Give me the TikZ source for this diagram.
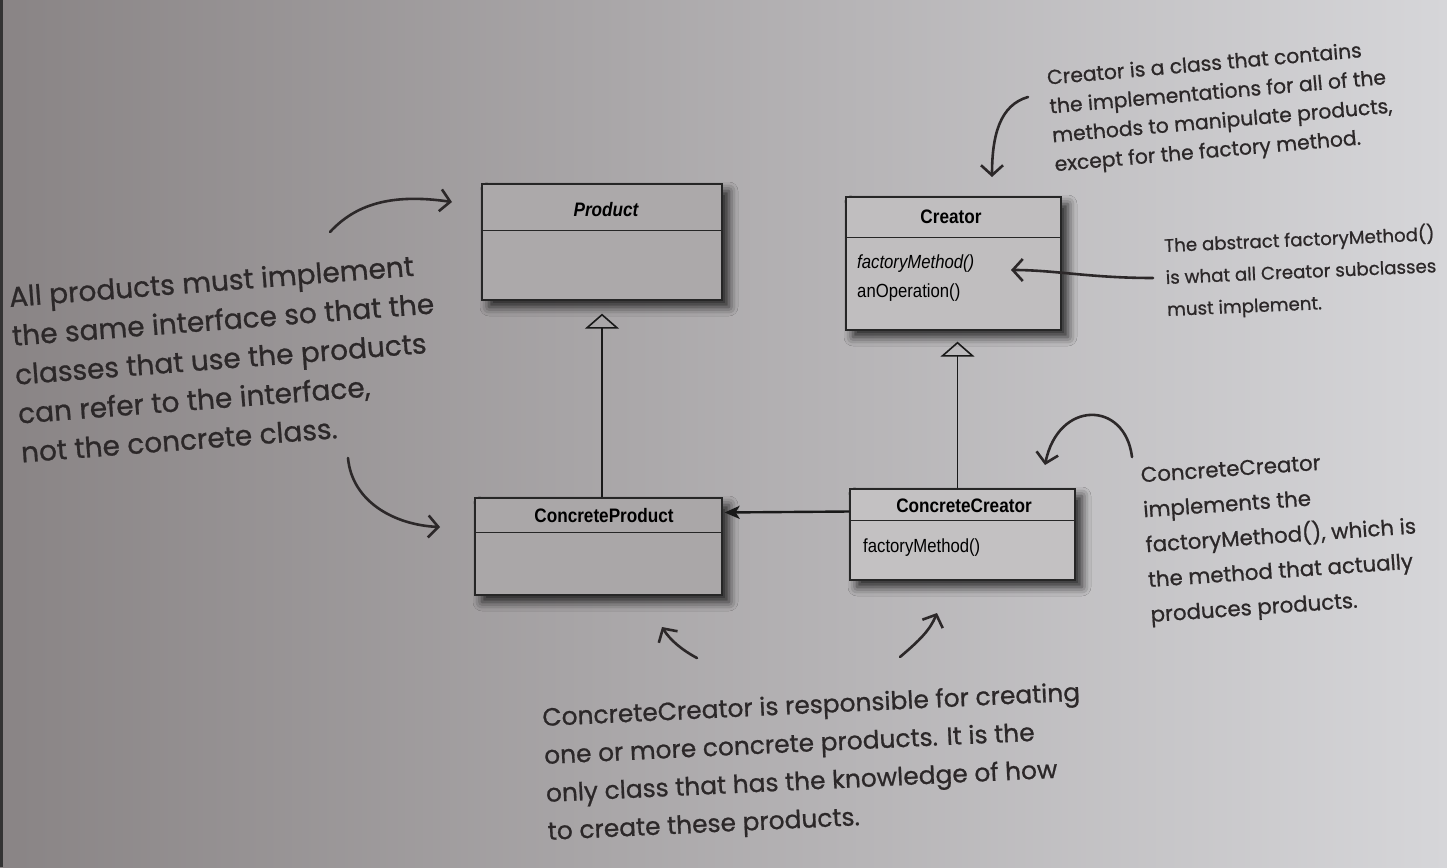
\documentclass[tikz,border=0pt]{standalone}
\usepackage{fontspec}
\usetikzlibrary{arrows.meta,shadows.blur}
\newfontfamily\handfont[FakeBold=0.8]{Poppins}
\newfontfamily\umlfont[FakeStretch=0.88]{Liberation Sans}

\definecolor{paperL}{RGB}{137,132,133}
\definecolor{paperR}{RGB}{214,214,217}
\definecolor{ink}{RGB}{44,40,41}

\tikzset{
  umlbox/.style={draw=black!85, line width=1.3pt, inner sep=0pt,
    blur shadow={shadow xshift=7pt, shadow yshift=-7pt,
      shadow blur radius=9pt, shadow opacity=80}},
  umltitle/.style={font=\umlfont\fontsize{19.5}{22}\selectfont\bfseries, inner sep=0pt},
  umlop/.style={font=\umlfont\fontsize{19}{22}\selectfont, inner sep=0pt, anchor=west},
  divider/.style={draw=black!85, line width=1.3pt},
  gen/.style={line width=1.6pt, draw=black!90,
    -{Triangle[open, length=15pt, width=34pt, line width=1.6pt]}},
  assoc/.style={line width=2.4pt, draw=black!90,
    -{Stealth[length=15pt, width=13pt, inset=4pt]}},
  pen/.style={draw=ink, line width=2.6pt, line cap=round, line join=round,
    -{Straight Barb[length=10pt, width=22pt, line width=2.6pt]}},
  note/.style={text=ink, align=left, inner sep=0pt},
}

\begin{document}
\begin{tikzpicture}[x=1pt, y=-1pt]
  % page background
  \useasboundingbox (0,0) rectangle (1447,867);
  \shade[left color=paperL, right color=paperR] (0,0) rectangle (1447,867);
  \fill[black!80] (0,0) rectangle (2.5,867);

  % class boxes
  \node[umlbox, fill={rgb,255:red,172;green,169;blue,170}, minimum width=240pt, minimum height=116pt]
    (product) at (602,242) {};
  \node[umlbox, fill={rgb,255:red,192;green,190;blue,191}, minimum width=215pt, minimum height=133pt]
    (creator) at (953.5,263.5) {};
  \node[umlbox, fill={rgb,255:red,170;green,167;blue,168}, minimum width=247pt, minimum height=97pt]
    (cprod) at (598.5,546.5) {};
  \node[umlbox, fill={rgb,255:red,195;green,193;blue,194}, minimum width=225pt, minimum height=91pt]
    (ccreator) at (962.5,534.5) {};

  % compartments
  \draw[divider] ([yshift=-47pt]product.north west) -- ([yshift=-47pt]product.north east);
  \draw[divider] ([yshift=-41pt]creator.north west) -- ([yshift=-41pt]creator.north east);
  \draw[divider] ([yshift=-35pt]cprod.north west) -- ([yshift=-35pt]cprod.north east);
  \draw[divider] ([yshift=-32pt]ccreator.north west) -- ([yshift=-32pt]ccreator.north east);

  % class names and operations
  \node[umltitle, font=\umlfont\fontsize{19.5}{22}\selectfont\bfseries\itshape]
    (productname) at (606,210) {Product};
  \node[umltitle] (creatorname) at (951,217) {Creator};
  \node[umltitle] (cprodname) at (604,516) {ConcreteProduct};
  \node[umltitle] (ccreatorname) at (964,506) {ConcreteCreator};
  \node[umlop, font=\umlfont\fontsize{19}{22}\selectfont\itshape] (fm) at (857,264) {factoryMethod()};
  \node[umlop] (anop) at (857,293) {anOperation()};
  \node[umlop] (ccfm) at (863,548) {factoryMethod()};

  % relations
  \draw[gen, shorten >=13pt] (product.south |- cprod.north) -- (product.south);
  \draw[gen, shorten >=11pt] ([xshift=4pt]creator.south |- ccreator.north) -- ([xshift=4pt]creator.south);
  \draw[assoc] ([yshift=23pt]ccreator.west) -- ([yshift=34pt,xshift=2pt]cprod.east);

  % handwritten notes
  \node[note, rotate=4.4, font=\handfont\fontsize{28}{39}\selectfont] (noteA) at (226,358)
    {All products must implement\\the same interface so that the\\classes that use the products\\can refer to the interface,\\not the concrete class.};
  \node[note, rotate=5, font=\handfont\fontsize{20.3}{29}\selectfont] (noteB) at (1221,108)
    {Creator is a class that contains\\the implementations for all of the\\methods to manipulate products,\\except for the factory method.};
  \node[note, rotate=2.5, font=\handfont\fontsize{18.2}{32}\selectfont] (noteC) at (1301,272)
    {The abstract factoryMethod()\\is what all Creator subclasses\\must implement.};
  \node[note, rotate=4, font=\handfont\fontsize{21.3}{35}\selectfont] (noteD) at (1281,538)
    {ConcreteCreator\\implements the\\factoryMethod(), which is\\the method that actually\\produces products.};
  \node[note, rotate=2.7, font=\handfont\fontsize{24.9}{38}\selectfont] (noteE) at (814,764)
    {ConcreteCreator is responsible for creating\\one or more concrete products. It is the\\only class that has the knowledge of how\\to create these products.};

  % handwritten arrows
  \coordinate (a1s) at (330,232);  \coordinate (a1e) at (452,202);
  \coordinate (a2s) at (348,458);  \coordinate (a2e) at (440,527);
  \coordinate (a3s) at (1028,97);  \coordinate (a3e) at (992,177);
  \coordinate (a4s) at (1153,278); \coordinate (a4e) at (1011,270);
  \coordinate (a5s) at (1132,457); \coordinate (a5e) at (1045,465);
  \coordinate (a6s) at (697,658);  \coordinate (a6e) at (662,627);
  \coordinate (a7s) at (900,657);  \coordinate (a7e) at (937,613);
  \draw[pen] (a1s) .. controls (355,205) and (390,193) .. (a1e);
  \draw[pen] (a2s) .. controls (352,502) and (395,525) .. (a2e);
  \draw[pen] (a3s) .. controls (1000,105) and (992,135) .. (a3e);
  \draw[pen] (a4s) .. controls (1090,278) and (1055,270) .. (a4e);
  \draw[pen] (a5s) .. controls (1125,400) and (1058,400) .. (a5e);
  \draw[pen] (a6s) .. controls (682,650) and (670,640) .. (a6e);
  \draw[pen] (a7s) .. controls (920,640) and (930,630) .. (a7e);
\end{tikzpicture}
\end{document}
